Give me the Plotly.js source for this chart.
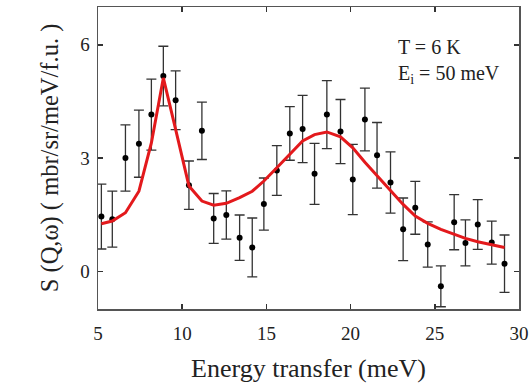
<!DOCTYPE html>
<html>
<head>
<meta charset="utf-8">
<script src="https://cdn.plot.ly/plotly-3.0.1.min.js"></script>
<style>html,body{margin:0;padding:0;background:#fff;}#chart{width:530px;height:389px;}</style>
</head>
<body>
<div id="chart"></div>
<script>
// Energy transfer (meV)
const energy = [5.20, 5.85, 6.63, 7.43, 8.17, 8.88, 9.61, 10.40, 11.17, 11.87, 12.62, 13.41, 14.16, 14.85, 15.62, 16.39, 17.15, 17.86, 18.59, 19.40, 20.13, 20.85, 21.57, 22.37, 23.12, 23.84, 24.58, 25.36, 26.15, 26.82, 27.55, 28.38, 29.14];
// Measured S(Q,w)
const sqw = [1.45, 1.38, 3.00, 3.38, 4.15, 5.17, 4.53, 2.28, 3.72, 1.40, 1.49, 0.89, 0.63, 1.78, 2.67, 3.65, 3.77, 2.58, 4.15, 3.70, 2.43, 4.02, 3.07, 2.35, 1.11, 1.68, 0.71, -0.40, 1.30, 0.75, 1.24, 0.76, 0.20];
// Error bars
const sqwErr = [0.86, 0.74, 0.88, 0.89, 0.94, 0.79, 0.78, 0.64, 0.76, 0.66, 0.64, 0.60, 0.78, 0.69, 0.66, 0.71, 0.89, 0.81, 0.90, 0.85, 0.93, 0.83, 0.87, 0.81, 0.83, 0.70, 0.60, 0.54, 0.73, 0.61, 0.66, 0.57, 0.76];
// Fit curve
const fit = [1.26, 1.33, 1.55, 2.12, 3.40, 5.12, 3.76, 2.26, 1.86, 1.75, 1.80, 1.95, 2.12, 2.39, 2.74, 3.10, 3.45, 3.62, 3.69, 3.56, 3.27, 2.89, 2.53, 2.15, 1.77, 1.46, 1.27, 1.11, 0.98, 0.87, 0.78, 0.70, 0.63];
const xTicks = [5, 10, 15, 20, 25, 30];
const yTicks = [0, 3, 6];

const serif = "Liberation Serif, Times New Roman, serif";
const data = [
  {
    x: energy, y: sqw, type: 'scatter', mode: 'markers',
    marker: {color: '#000', size: 6},
    error_y: {type: 'data', array: sqwErr, visible: true, color: '#333', thickness: 1.3, width: 5},
    showlegend: false
  },
  {
    x: energy, y: fit, type: 'scatter', mode: 'lines',
    line: {color: '#e3191c', width: 3}, showlegend: false
  },
  // invisible helper trace so the tick-mark axes are drawn
  {x: [5], y: [0], xaxis: 'x2', yaxis: 'y2', type: 'scatter', mode: 'markers',
   marker: {opacity: 0}, showlegend: false, hoverinfo: 'skip'}
];
const labelAxis = {
  showgrid: false, zeroline: false, showline: true, mirror: true,
  linecolor: '#555', linewidth: 1.5, ticks: 'outside', tickcolor: 'rgba(0,0,0,0)',
  tickfont: {family: serif, size: 19, color: '#222'}
};
const tickAxis = {
  showgrid: false, zeroline: false, showline: false, mirror: 'allticks',
  ticks: 'inside', ticklen: 5, tickwidth: 1.5, tickcolor: '#333', showticklabels: false
};
const layout = {
  width: 530, height: 389,
  margin: {l: 98, r: 11, t: 7, b: 80},
  paper_bgcolor: '#fff', plot_bgcolor: '#fff',
  xaxis: Object.assign({}, labelAxis, {
    range: [5, 30], tickvals: xTicks, ticktext: xTicks.map(String), ticklen: 7,
    title: {text: 'Energy transfer (meV)', font: {family: serif, size: 26, color: '#222'}, standoff: 15}
  }),
  yaxis: Object.assign({}, labelAxis, {
    range: [-1, 7], tickvals: yTicks, ticktext: yTicks.map(String), ticklen: 3,
    title: {text: 'S (Q,\u03c9) ( mbr/sr/meV/f.u. )', font: {family: serif, size: 24.5, color: '#222'}, standoff: 14}
  }),
  xaxis2: Object.assign({}, tickAxis, {overlaying: 'x', anchor: 'y2', range: [5, 30], tickvals: xTicks}),
  yaxis2: Object.assign({}, tickAxis, {overlaying: 'y', anchor: 'x2', range: [-1, 7], tickvals: yTicks}),
  annotations: [
    {xref: 'paper', yref: 'paper', x: 0.708, y: 0.867, xanchor: 'left', yanchor: 'middle',
     text: 'T = 6 K', showarrow: false, font: {family: serif, size: 20, color: '#222'}},
    {xref: 'paper', yref: 'paper', x: 0.708, y: 0.775, xanchor: 'left', yanchor: 'middle',
     text: 'E<sub>i</sub> = 50 meV', showarrow: false, font: {family: serif, size: 20, color: '#222'}}
  ]
};
Plotly.newPlot('chart', data, layout, {displayModeBar: false, staticPlot: true});
</script>
</body>
</html>
